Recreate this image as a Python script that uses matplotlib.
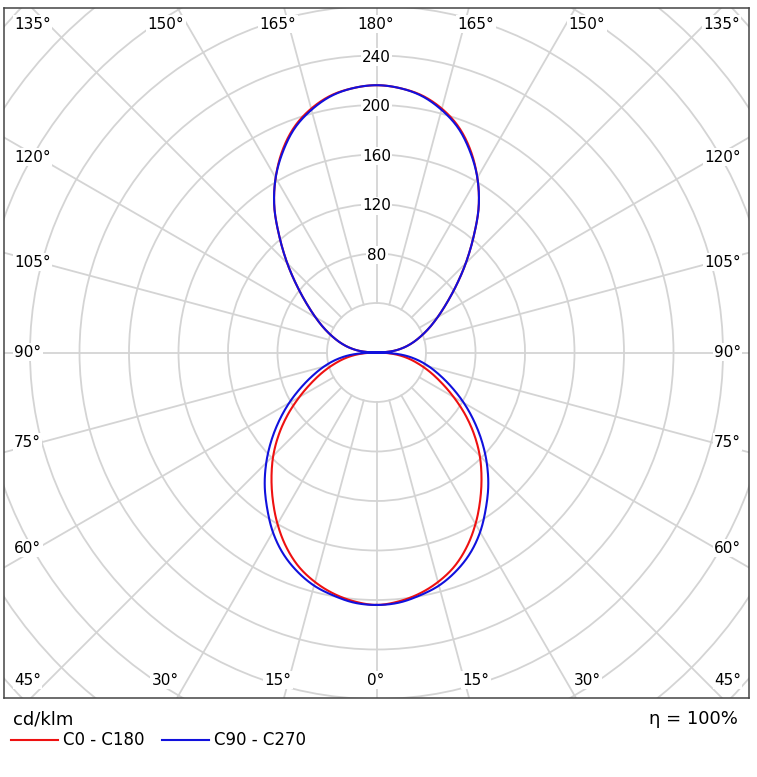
import numpy as np
import matplotlib.pyplot as plt
from matplotlib.patches import Circle

# luminous intensity, cd/klm, gamma 0..180 step 5 (0 = nadir, bottom of chart)
gamma = np.arange(0, 181, 5)
c0_c180 = [204, 202, 198, 192, 184, 173, 160, 146, 132, 118,
           103, 87.5, 72, 58, 46, 35, 25, 14, 0,
           13, 22, 30, 38, 47, 57, 69, 84, 102, 122,
           144, 163, 180, 194, 204, 211, 214.5, 216]
c90_c270 = [204, 203, 199.5, 195, 188, 179, 167.5, 154, 140.5, 126,
            111, 96, 81.5, 67.5, 55, 44, 33, 20, 0,
            13, 22, 30, 38, 47, 57, 69, 84, 102, 122,
            144, 163, 179, 193, 203, 210.5, 214.5, 216]

series_names = ["C0 - C180", "C90 - C270"]
series_colors = ["#ee1111", "#1111dd"]

ring_step = 40
ring_labels = [80, 120, 160, 200, 240]

# angle labels round the frame: text, pixel x, pixel y, alignment
angle_labels = [
    ("135°", 14, 24, "left"), ("150°", 166, 24, "center"), ("165°", 278, 24, "center"),
    ("180°", 376, 24, "center"), ("165°", 476, 24, "center"), ("150°", 587, 24, "center"),
    ("135°", 740, 24, "right"),
    ("120°", 14, 157, "left"), ("105°", 14, 262, "left"), ("90°", 14, 352, "left"),
    ("75°", 14, 442, "left"), ("60°", 14, 548, "left"),
    ("120°", 741, 157, "right"), ("105°", 741, 262, "right"), ("90°", 741, 352, "right"),
    ("75°", 741, 442, "right"), ("60°", 741, 548, "right"),
    ("45°", 14, 680, "left"), ("30°", 165, 680, "center"), ("15°", 278, 680, "center"),
    ("0°", 376, 680, "center"), ("15°", 476, 680, "center"), ("30°", 587, 680, "center"),
    ("45°", 741, 680, "right"),
]

W, H = 757, 777
cx, cy = 376.5, 352.5          # centre of the diagram in pixels
scale = 49.5 / ring_step        # pixels per cd/klm
box = (4, 7.5, 749, 698)        # left, top, right, bottom in pixels


def px(x, y):
    return (x - cx) / scale, (cy - y) / scale


def catmull(v, pre, post, n=10):
    # smooth drawing line through the read values
    p = np.concatenate([[pre], v, [post]])
    t = np.linspace(0, 1, n, endpoint=False)
    out = []
    for i in range(len(v) - 1):
        p0, p1, p2, p3 = p[i], p[i + 1], p[i + 2], p[i + 3]
        out.append(0.5 * (2 * p1 + (-p0 + p2) * t + (2 * p0 - 5 * p1 + 4 * p2 - p3) * t ** 2
                          + (-p0 + 3 * p1 - 3 * p2 + p3) * t ** 3))
    return np.concatenate(out)


def smooth_curve(vals):
    v = np.array(vals, dtype=float)
    k = list(gamma).index(90)
    lo, hi = v[:k + 1], v[k:]
    a = catmull(lo, lo[1], 2 * lo[-1] - lo[-2])
    b = catmull(hi, 2 * hi[0] - hi[1], hi[-2])
    r = np.clip(np.concatenate([a, b, [v[-1]]]), 0, None)
    ang = np.linspace(0, 180, len(r))
    return np.radians(ang), r


fig = plt.figure(figsize=(W / 100, H / 100), dpi=100)
ax = fig.add_axes([box[0] / W, 1 - box[3] / H, (box[2] - box[0]) / W, (box[3] - box[1]) / H])
ax.set_xlim((box[0] - cx) / scale, (box[2] - cx) / scale)
ax.set_ylim((cy - box[3]) / scale, (cy - box[1]) / scale)
ax.set_aspect("equal")
ax.set_xticks([])
ax.set_yticks([])
for sp in ax.spines.values():
    sp.set_color("#444444")
    sp.set_linewidth(1.1)

grid_color = "#d4d4d4"
for r in range(ring_step, 401, ring_step):
    ax.add_patch(Circle((0, 0), r, fill=False, color=grid_color, lw=1.3, zorder=1))
for a in range(0, 360, 15):
    t = np.radians(a)
    ax.plot([ring_step * np.sin(t), 600 * np.sin(t)], [-ring_step * np.cos(t), -600 * np.cos(t)],
            color=grid_color, lw=1.3, zorder=1)

for vals, col, z in zip([c0_c180, c90_c270], series_colors, [3, 4]):
    g, v = smooth_curve(vals)
    # right half then mirrored left half
    xs = np.concatenate([v * np.sin(g), -(v * np.sin(g))[::-1]])
    ys = np.concatenate([-v * np.cos(g), (-v * np.cos(g))[::-1]])
    ax.plot(xs, ys, color=col, lw=1.5, zorder=z)

lbl_box = dict(facecolor="white", edgecolor="none", pad=1.0)
for rv in ring_labels:
    ax.text(0, rv - 1.5, str(rv), ha="center", va="center", fontsize=11,
            bbox=lbl_box, zorder=5)

for txt, x, y, ha in angle_labels:
    dx, dy = px(x, y)
    ax.text(dx, dy, txt, ha=ha, va="center", fontsize=11, bbox=lbl_box,
            zorder=5, clip_on=False)

# legend area under the frame
fig.text(13 / W, 1 - 719 / H, "cd/klm", fontsize=13, va="center", ha="left")
leg_y = 1 - 740 / H
fig.add_artist(plt.Line2D([11 / W, 58 / W], [leg_y, leg_y], color=series_colors[0], lw=1.5))
fig.text(63 / W, leg_y, series_names[0], fontsize=12, va="center", ha="left")
fig.add_artist(plt.Line2D([162 / W, 209 / W], [leg_y, leg_y], color=series_colors[1], lw=1.5))
fig.text(214 / W, leg_y, series_names[1], fontsize=12, va="center", ha="left")
fig.text(738 / W, 1 - 719 / H, "η = 100%", fontsize=13, va="center", ha="right")

fig.savefig("out.png", dpi=100)
